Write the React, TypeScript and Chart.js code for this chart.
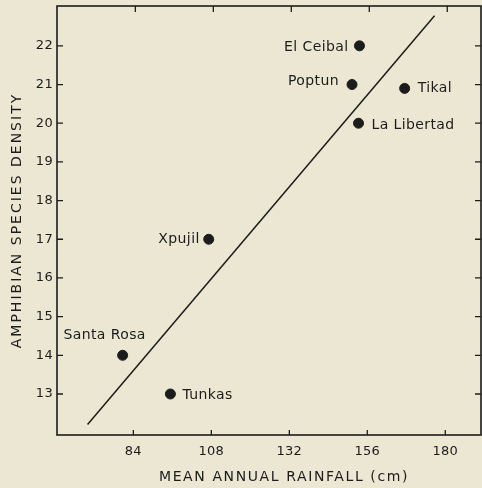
import React, { useEffect, useRef } from "react";
import { Chart, registerables } from "chart.js";

Chart.register(...registerables);

const siteNames = ["El Ceibal", "Poptun", "Tikal", "La Libertad", "Xpujil", "Santa Rosa", "Tunkas"];
const rainfall = [153.6, 151.3, 167.5, 153.3, 107.2, 80.7, 95.4];
const density = [22, 21, 20.9, 20, 17, 14, 13];
const fitX = [69.9, 176.7];
const fitY = [12.21, 22.78];
const xTickValues = [84, 108, 132, 156, 180];
const yTickValues = [13, 14, 15, 16, 17, 18, 19, 20, 21, 22];
const xTitle = "MEAN ANNUAL RAINFALL (cm)";
const yTitle = "AMPHIBIAN SPECIES DENSITY";

// label placement relative to each point: [dx, dy, align]
const labelPlacement: [number, number, CanvasTextAlign][] = [
  [-11, 2, "right"],
  [-13, -3, "right"],
  [13, 0, "left"],
  [13, 2, "left"],
  [-9, 0, "right"],
  [-18, -20, "center"],
  [12, 1, "left"],
];

const FONT = "'DejaVu Sans', sans-serif";
const INK = "#1c1c1c";

const framePlugin = {
  id: "frameAndLabels",
  beforeDraw(chart: any) {
    chart.ctx.letterSpacing = "0.3px";
  },
  afterDraw(chart: any) {
    const { ctx, chartArea, scales } = chart;
    const { left, right, top, bottom } = chartArea;
    const xs = scales.x;
    const ys = scales.y;
    ctx.save();
    ctx.strokeStyle = INK;
    ctx.lineWidth = 1.6;
    ctx.strokeRect(left, top, right - left, bottom - top);
    ctx.lineWidth = 1.3;
    ctx.beginPath();
    xTickValues.forEach((v) => {
      const px = xs.getPixelForValue(v);
      ctx.moveTo(px, bottom);
      ctx.lineTo(px, bottom - 5);
      ctx.moveTo(px + 2, top);
      ctx.lineTo(px + 2, top + 6);
    });
    yTickValues.forEach((v) => {
      const py = ys.getPixelForValue(v);
      ctx.moveTo(left, py);
      ctx.lineTo(left + 6, py);
      ctx.moveTo(right, py);
      ctx.lineTo(right - 6, py);
    });
    ctx.stroke();

    ctx.fillStyle = INK;
    ctx.font = `14px ${FONT}`;
    ctx.letterSpacing = "0.4px";
    ctx.textBaseline = "middle";
    const meta = chart.getDatasetMeta(0);
    meta.data.forEach((pt: any, i: number) => {
      const [dx, dy, align] = labelPlacement[i];
      ctx.textAlign = align;
      ctx.fillText(siteNames[i], pt.x + dx, pt.y + dy);
    });

    // axis titles
    ctx.textAlign = "center";
    ctx.letterSpacing = "1.6px";
    ctx.fillText(xTitle, (left + right) / 2 + 15, 477);
    ctx.save();
    ctx.translate(17, (top + bottom) / 2 - 0);
    ctx.rotate(-Math.PI / 2);
    ctx.letterSpacing = "2px";
    ctx.fillText(yTitle, 0, 0);
    ctx.restore();
    ctx.restore();
  },
};

const zeroPad = (s: any) => {
  s.paddingTop = 0;
  s.paddingBottom = 0;
  s.paddingLeft = 0;
  s.paddingRight = 0;
};

export default function App() {
  const canvasRef = useRef<HTMLCanvasElement | null>(null);

  useEffect(() => {
    document.body.style.margin = "0";
    document.body.style.background = "#ebe7d3";
    const canvas = canvasRef.current;
    if (!canvas) return;
    const chart = new Chart(canvas, {
      type: "scatter",
      data: {
        datasets: [
          {
            label: "Sites",
            data: rainfall.map((x, i) => ({ x, y: density[i] })),
            backgroundColor: INK,
            borderColor: INK,
            pointRadius: 5,
            pointHoverRadius: 5,
          },
          {
            label: "Fit",
            data: fitX.map((x, i) => ({ x, y: fitY[i] })),
            showLine: true,
            borderColor: INK,
            borderWidth: 1.5,
            pointRadius: 0,
            fill: false,
          },
        ],
      },
      options: {
        animation: false,
        responsive: false,
        maintainAspectRatio: false,
        layout: { autoPadding: false, padding: { top: 6, right: 1, left: 0, bottom: 0 } },
        plugins: {
          legend: { display: false },
          tooltip: { enabled: false },
        },
        scales: {
          x: {
            type: "linear",
            min: 60.5,
            max: 191,
            afterBuildTicks: (s: any) => {
              s.ticks = xTickValues.map((v) => ({ value: v }));
            },
            afterFit: (s: any) => {
              s.height = 53;
              zeroPad(s);
            },
            grid: { display: false, drawTicks: false },
            border: { display: false },
            ticks: {
              padding: 9,
              color: INK,
              font: { family: FONT, size: 13 },
            },
            title: { display: false },
          },
          y: {
            type: "linear",
            min: 11.94,
            max: 23.03,
            afterBuildTicks: (s: any) => {
              s.ticks = yTickValues.map((v) => ({ value: v }));
            },
            afterFit: (s: any) => {
              s.width = 57;
              zeroPad(s);
            },
            grid: { display: false, drawTicks: false },
            border: { display: false },
            ticks: {
              padding: 4,
              color: INK,
              font: { family: FONT, size: 13 },
            },
            title: { display: false },
          },
        },
      },
      plugins: [framePlugin],
    });
    return () => chart.destroy();
  }, []);

  return (
    <div style={{ width: 482, height: 488, background: "#ebe7d3" }}>
      <canvas ref={canvasRef} width={482} height={488} style={{ display: "block" }} />
    </div>
  );
}
